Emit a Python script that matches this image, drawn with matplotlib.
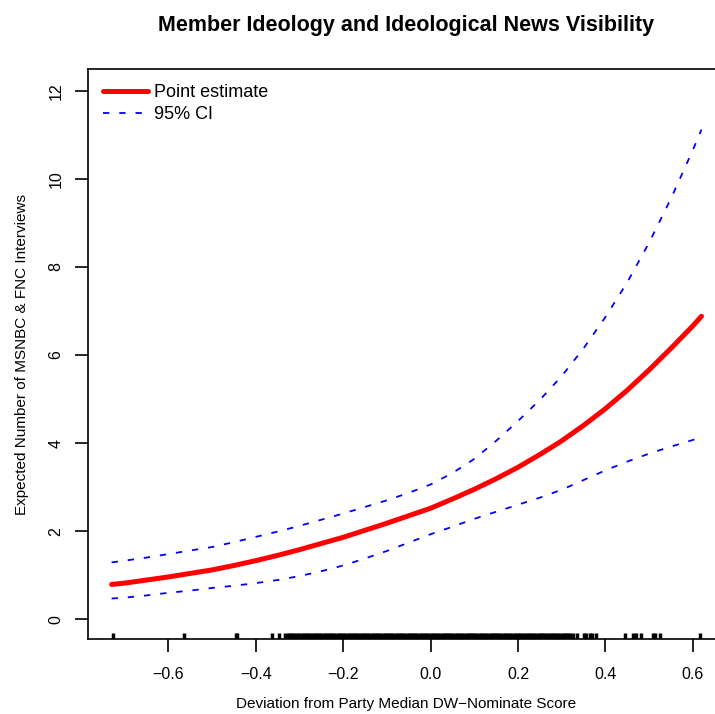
import numpy as np
import matplotlib.pyplot as plt

plt.rcParams['font.family'] = ['Liberation Sans', 'DejaVu Sans']

# Curvas
x_vals = [-0.73, -0.70, -0.65, -0.60, -0.55, -0.50, -0.45, -0.40, -0.35, -0.30,
          -0.25, -0.20, -0.15, -0.10, -0.05, 0.00, 0.05, 0.10, 0.15, 0.20,
          0.25, 0.30, 0.35, 0.40, 0.45, 0.50, 0.55, 0.60, 0.62]
ponto = [0.79, 0.82, 0.89, 0.96, 1.04, 1.12, 1.22, 1.33, 1.45, 1.58,
         1.72, 1.86, 2.02, 2.18, 2.35, 2.52, 2.73, 2.95, 3.19, 3.45,
         3.74, 4.05, 4.40, 4.78, 5.20, 5.66, 6.15, 6.66, 6.88]
ic_sup = [1.29, 1.33, 1.40, 1.48, 1.56, 1.64, 1.75, 1.87, 1.99, 2.12,
          2.26, 2.40, 2.55, 2.70, 2.87, 3.06, 3.32, 3.64, 4.05, 4.50,
          4.98, 5.52, 6.15, 6.86, 7.65, 8.55, 9.55, 10.65, 11.12]
ic_inf = [0.47, 0.49, 0.54, 0.60, 0.65, 0.71, 0.76, 0.82, 0.89, 0.98,
          1.09, 1.22, 1.38, 1.55, 1.74, 1.93, 2.10, 2.28, 2.44, 2.60,
          2.76, 2.94, 3.16, 3.38, 3.58, 3.76, 3.92, 4.07, 4.14]

# Observações (rug)
rug_esq = [-0.726, -0.564, -0.446, -0.443, -0.364, -0.348, -0.333, -0.327, -0.322, -0.318, -0.312, -0.305]
rug_meio = [
    -0.300, -0.295, -0.290, -0.285, -0.280, -0.275, -0.270, -0.265, -0.260, -0.255,
    -0.250, -0.245, -0.240, -0.235, -0.230, -0.225, -0.220, -0.215, -0.210, -0.205,
    -0.200, -0.195, -0.190, -0.185, -0.180, -0.175, -0.170, -0.165, -0.160, -0.155,
    -0.150, -0.145, -0.140, -0.135, -0.130, -0.125, -0.120, -0.115, -0.110, -0.105,
    -0.100, -0.095, -0.090, -0.085, -0.080, -0.075, -0.070, -0.065, -0.060, -0.055,
    -0.050, -0.045, -0.040, -0.035, -0.030, -0.025, -0.020, -0.015, -0.010, -0.005,
    0.000, 0.005, 0.010, 0.015, 0.020, 0.025, 0.030, 0.035, 0.040, 0.045,
    0.050, 0.055, 0.060, 0.065, 0.070, 0.075, 0.080, 0.085, 0.090, 0.095,
    0.100, 0.105, 0.110, 0.115, 0.120, 0.125, 0.130, 0.135, 0.140, 0.145,
    0.150, 0.155, 0.160, 0.165, 0.170, 0.175, 0.180, 0.185, 0.190, 0.195,
    0.200, 0.205, 0.210, 0.215, 0.220, 0.225, 0.230, 0.235, 0.240, 0.245,
    0.250, 0.255, 0.260, 0.265, 0.270, 0.275, 0.280, 0.285, 0.290, 0.295,
    0.300, 0.305, 0.310, 0.315, 0.320,
]
rug_dir = [0.327, 0.335, 0.350, 0.356, 0.365, 0.370, 0.378, 0.445, 0.464, 0.470,
           0.482, 0.509, 0.513, 0.525, 0.616]
rug = rug_esq + rug_meio + rug_dir

x_ticks = [-0.6, -0.4, -0.2, 0.0, 0.2, 0.4, 0.6]
y_ticks = [0, 2, 4, 6, 8, 10, 12]

fig = plt.figure(figsize=(7.15, 7.14), dpi=100)
ax = fig.add_axes([0.1231, 0.105, 0.891, 0.798])

ax.plot(x_vals, ponto, color='red', lw=3.6, solid_capstyle='round', label='Point estimate')
ax.plot(x_vals, ic_sup, color='blue', lw=1.3, dashes=(3.5, 5.5), label='95% CI')
ax.plot(x_vals, ic_inf, color='blue', lw=1.3, dashes=(3.5, 5.5))

# rug na base, só para cima
ax.vlines(rug, 0, 0.011, color='black', lw=2.5, transform=ax.get_xaxis_transform())

ax.set_xlim(-0.784, 0.674)
ax.set_ylim(-0.45, 12.49)
ax.set_xticks(x_ticks)
ax.set_xticklabels(['\u22120.6', '\u22120.4', '\u22120.2', '0.0', '0.2', '0.4', '0.6'])
ax.set_yticks(y_ticks)
ax.set_yticklabels([str(v) for v in y_ticks], rotation=90, va='center')
ax.tick_params(length=9.5, width=1.2, labelsize=11.5)
ax.tick_params(axis='x', pad=10.5)
ax.tick_params(axis='y', pad=8)
for s in ax.spines.values():
    s.set_linewidth(1.2)

ax.set_xlabel('Deviation from Party Median DW\u2212Nominate Score', fontsize=11, labelpad=11)
ax.set_ylabel('Expected Number of MSNBC & FNC Interviews', fontsize=11, labelpad=14.5)
fig.text((88 + 725) / 2 / 715, 1 - 25 / 714, 'Member Ideology and Ideological News Visibility',
         ha='center', va='center', fontsize=15.5, fontweight='bold')

ax.legend(loc='upper left', bbox_to_anchor=(0.0126, 0.987), frameon=False, fontsize=13,
          handlelength=2.5, handletextpad=0.3, borderaxespad=0, labelspacing=0.3)

plt.savefig('out.png', dpi=100)
